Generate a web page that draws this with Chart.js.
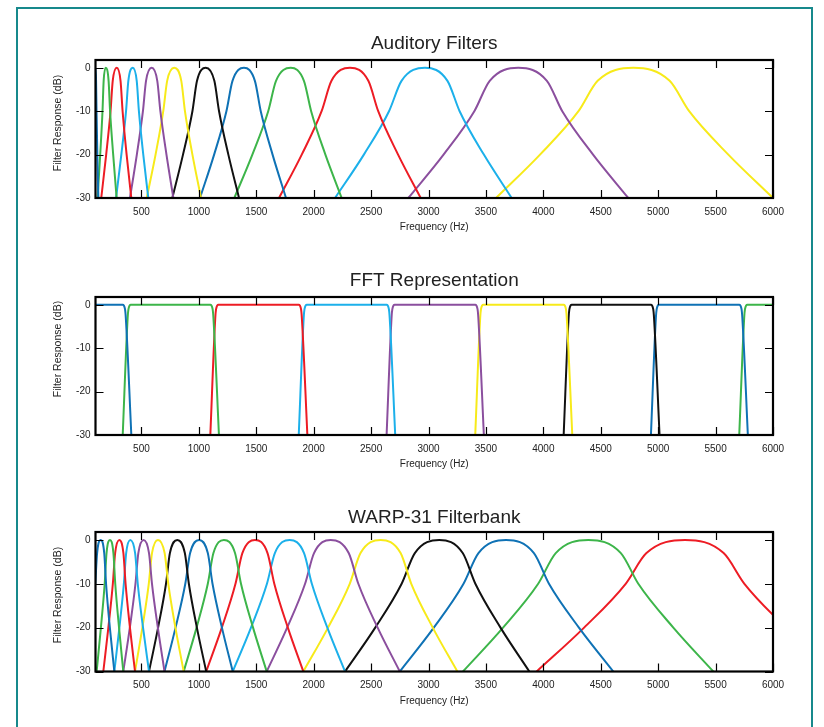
<!DOCTYPE html>
<html><head><meta charset="utf-8">
<script src="https://cdn.jsdelivr.net/npm/chart.js@4.4.0/dist/chart.umd.min.js"></script>
<style>
html,body{margin:0;padding:0;background:#fff;width:824px;height:727px;overflow:hidden;position:relative;}
#frame{position:absolute;left:16px;top:7px;width:797px;height:740px;border:2.5px solid #17898c;border-bottom:none;box-sizing:border-box;}
canvas{position:absolute;left:0;}
</style></head><body>
<div id="frame"></div>
<canvas id="c1" width="824" height="240" style="top:0px"></canvas>
<canvas id="c2" width="824" height="240" style="top:237px"></canvas>
<canvas id="c3" width="824" height="240" style="top:472px"></canvas>
<script>
// ---------- data (frequency Hz, response dB) ----------
const xTicks = [500,1000,1500,2000,2500,3000,3500,4000,4500,5000,5500,6000];
const yTicks = [-30,-20,-10,0];
const titles = ['Auditory Filters','FFT Representation','WARP-31 Filterbank'];
const yAxisTitle = 'Filter Response (dB)';
const xAxisTitle = 'Frequency (Hz)';

const auditoryCurves = [
 [[95,-3],[101,0],[105,-3],[109,-10],[116,-20],[125,-30]],
 [[118,-30],[141,-20],[161,-10],[171,-3],[189,0],[214,-3],[227,-10],[254,-20],[284,-30]],
 [[150,-30],[193,-20],[231,-10],[250,-3],[285,0],[318,-3],[336,-10],[371,-20],[412,-30]],
 [[279,-30],[325,-20],[366,-10],[386,-3],[424,0],[459,-3],[478,-10],[516,-20],[560,-30]],
 [[400,-30],[460,-20],[513,-10],[540,-3],[589,0],[638,-3],[665,-10],[718,-20],[778,-30]],
 [[546,-30],[623,-20],[690,-10],[724,-3],[786,0],[847,-3],[879,-10],[944,-20],[1019,-30]],
 [[769,-30],[862,-20],[944,-10],[984,-3],[1060,0],[1135,-3],[1176,-10],[1257,-20],[1350,-30]],
 [[1010,-30],[1133,-20],[1240,-10],[1293,-3],[1393,0],[1488,-3],[1539,-10],[1642,-20],[1759,-30]],
 [[1309,-30],[1466,-20],[1604,-10],[1672,-3],[1800,0],[1915,-3],[1978,-10],[2102,-20],[2244,-30]],
 [[1698,-30],[1896,-20],[2069,-10],[2155,-3],[2316,0],[2476,-3],[2562,-10],[2735,-20],[2932,-30]],
 [[2186,-30],[2437,-20],[2656,-10],[2765,-3],[2969,0],[3165,-3],[3271,-10],[3482,-20],[3724,-30]],
 [[2824,-30],[3131,-20],[3399,-10],[3533,-3],[3782,0],[4031,-3],[4165,-10],[4433,-20],[4740,-30]],
 [[3588,-30],[3971,-20],[4306,-10],[4473,-3],[4784,0],[5100,-3],[5270,-10],[5611,-20],[6000,-30]]
];

const fftCurves = [
 [[90,0],[337,0],[357,-1],[364,-3],[412,-30]],
 [[337,-30],[380,-3],[387,-1],[407,0],[1100,0],[1120,-1],[1127,-3],[1175,-30]],
 [[1100,-30],[1143,-3],[1150,-1],[1170,0],[1870,0],[1890,-1],[1897,-3],[1945,-30]],
 [[1870,-30],[1913,-3],[1920,-1],[1940,0],[2635,0],[2655,-1],[2662,-3],[2710,-30]],
 [[2635,-30],[2678,-3],[2685,-1],[2705,0],[3407,0],[3427,-1],[3434,-3],[3482,-30]],
 [[3407,-30],[3450,-3],[3457,-1],[3477,0],[4177,0],[4197,-1],[4204,-3],[4252,-30]],
 [[4177,-30],[4220,-3],[4227,-1],[4247,0],[4937,0],[4957,-1],[4964,-3],[5012,-30]],
 [[4937,-30],[4980,-3],[4987,-1],[5007,0],[5706,0],[5726,-1],[5733,-3],[5781,-30]],
 [[5706,-30],[5749,-3],[5756,-1],[5776,0],[6100,0]]
];

const warpCurves = [
 [[28,-30],[65,-20],[98,-10],[114,-3],[145,0],[176,-3],[192,-10],[225,-20],[264,-30]],
 [[110,-30],[147,-20],[180,-10],[196,-3],[226,0],[256,-3],[272,-10],[305,-20],[342,-30]],
 [[168,-30],[212,-20],[251,-10],[271,-3],[307,0],[343,-3],[362,-10],[400,-20],[444,-30]],
 [[264,-30],[308,-20],[347,-10],[367,-3],[403,0],[445,-3],[468,-10],[514,-20],[566,-30]],
 [[342,-30],[399,-20],[448,-10],[473,-3],[519,0],[566,-3],[592,-10],[643,-20],[701,-30]],
 [[444,-30],[508,-20],[564,-10],[592,-3],[644,0],[702,-3],[734,-10],[796,-20],[868,-30]],
 [[566,-30],[645,-20],[714,-10],[748,-3],[812,0],[878,-3],[913,-10],[983,-20],[1064,-30]],
 [[701,-30],[797,-20],[882,-10],[924,-3],[1002,0],[1078,-3],[1119,-10],[1201,-20],[1295,-30]],
 [[868,-30],[980,-20],[1078,-10],[1127,-3],[1218,0],[1315,-3],[1367,-10],[1472,-20],[1591,-30]],
 [[1064,-30],[1200,-20],[1319,-10],[1379,-3],[1489,0],[1598,-3],[1657,-10],[1775,-20],[1910,-30]],
 [[1295,-30],[1454,-20],[1593,-10],[1662,-3],[1791,0],[1916,-3],[1984,-10],[2119,-20],[2273,-30]],
 [[1591,-30],[1769,-20],[1925,-10],[2003,-3],[2148,0],[2305,-3],[2389,-10],[2557,-20],[2750,-30]],
 [[1910,-30],[2125,-20],[2314,-10],[2408,-3],[2583,0],[2757,-3],[2850,-10],[3037,-20],[3251,-30]],
 [[2273,-30],[2536,-20],[2766,-10],[2881,-3],[3094,0],[3298,-3],[3408,-10],[3627,-20],[3878,-30]],
 [[2750,-30],[3046,-20],[3305,-10],[3435,-3],[3675,0],[3918,-3],[4049,-10],[4310,-20],[4609,-30]],
 [[3300,-30],[3649,-20],[3955,-10],[4108,-3],[4392,0],[4675,-3],[4827,-10],[5132,-20],[5480,-30]],
 [[3942,-30],[4355,-20],[4717,-10],[4898,-3],[5234,0],[5570,-3],[5751,-10],[6113,-20],[6526,-30]]
];

// ---------- styles ----------
const colorCycle = ['#0f72b5','#3db54a','#ed1c24','#1cb0ea','#8b4f9e','#f7ea1a','#111111'];
const FONT = '"Liberation Sans", Arial, Helvetica, sans-serif';

const frameTicks = {
  id: 'frameTicks',
  afterDatasetsDraw(chart, args, opts) {
    const {ctx, chartArea: a, scales: {x, y}} = chart;
    ctx.save();
    ctx.strokeStyle = '#000';
    ctx.lineWidth = 1.2;
    const tl = 8;
    ctx.beginPath();
    x.ticks.forEach(t => {
      const px = Math.round(x.getPixelForValue(t.value)) + 0.5;
      ctx.moveTo(px, a.bottom); ctx.lineTo(px, a.bottom - tl);
      ctx.moveTo(px, a.top); ctx.lineTo(px, a.top + tl);
    });
    y.ticks.forEach(t => {
      const py = Math.round(y.getPixelForValue(t.value)) + 0.5;
      ctx.moveTo(a.left, py); ctx.lineTo(a.left + tl, py);
      ctx.moveTo(a.right, py); ctx.lineTo(a.right - tl, py);
    });
    ctx.stroke();
    ctx.lineWidth = 2.2;
    ctx.strokeRect(a.left, a.top, a.right - a.left, a.bottom - a.top);
    // y axis title, placed as in the reference
    ctx.translate(58.5, opts.yTitleY);
    ctx.rotate(-Math.PI / 2);
    ctx.fillStyle = '#222';
    ctx.font = '10.5px ' + FONT;
    ctx.textAlign = 'center';
    ctx.textBaseline = 'middle';
    ctx.fillText(yAxisTitle, 0, 0);
    ctx.restore();
  }
};

function makeChart(id, curves, title, opts) {
  const datasets = curves.map((pts, i) => ({
    data: pts.map(([f, db]) => ({x: f, y: db})),
    borderColor: colorCycle[i % colorCycle.length],
    borderWidth: 2,
    pointRadius: 0,
    fill: false,
    cubicInterpolationMode: 'monotone'
  }));
  return new Chart(document.getElementById(id), {
    type: 'line',
    data: {datasets},
    plugins: [frameTicks],
    options: {
      responsive: false,
      animation: false,
      events: [],
      layout: {padding: {left: 0, right: 51, top: 0, bottom: 0}},
      plugins: {
        legend: {display: false},
        tooltip: {enabled: false},
        frameTicks: {yTitleY: opts.yTitleY},
        title: {display: true, text: title, color: '#222', fullSize: false,
          font: {family: FONT, size: 19, weight: 'normal'},
          padding: {top: opts.tTop, bottom: 60 - 22.8 - opts.tTop}}
      },
      scales: {
        x: {
          type: 'linear', min: 100, max: 6000,
          afterBuildTicks: s => { s.ticks = xTicks.map(v => ({value: v})); },
          afterFit: s => { s.height = opts.xH; },
          grid: {display: false, drawTicks: false}, border: {display: false},
          ticks: {color: '#222', font: {family: FONT, size: 10}, padding: 8, maxRotation: 0, autoSkip: false,
            callback: v => String(v)},
          title: {display: true, text: xAxisTitle, color: '#222',
            font: {family: FONT, size: 10}, padding: {top: 0, bottom: opts.xtB}}
        },
        y: {
          min: -30, max: 1.8,
          afterBuildTicks: s => { s.ticks = yTicks.map(v => ({value: v})); },
          afterFit: s => { s.width = 95.5; },
          grid: {display: false, drawTicks: false}, border: {display: false},
          ticks: {color: '#222', font: {family: FONT, size: 10}, padding: 5, callback: v => String(v)},
          title: {display: false}
        }
      }
    }
  });
}

makeChart('c1', auditoryCurves, titles[0], {tTop: 32, xH: 42, xtB: 6.5, yTitleY: 123});
makeChart('c2', fftCurves, titles[1], {tTop: 32, xH: 42, xtB: 6.5, yTitleY: 112});
makeChart('c3', warpCurves, titles[2], {tTop: 34, xH: 40.5, xtB: 5, yTitleY: 123});
</script>
</body></html>
